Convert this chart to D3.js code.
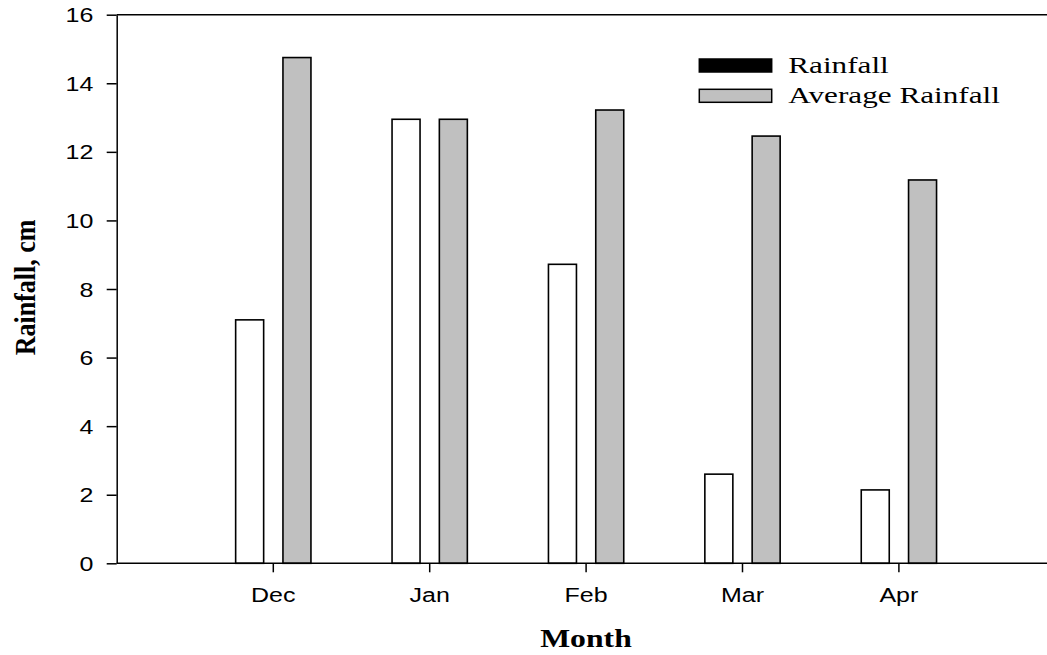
<!DOCTYPE html>
<html>
<head>
<meta charset="utf-8">
<script src="https://cdn.jsdelivr.net/npm/d3@7"></script>
<style>
  html, body { margin: 0; padding: 0; background: #fff; }
  svg { display: block; }
</style>
</head>
<body>
<svg id="chart" width="1047" height="655"></svg>
<script>
const months = ["Dec", "Jan", "Feb", "Mar", "Apr"];
const rainfall = [7.1, 12.95, 8.72, 2.6, 2.14];
const averageRainfall = [14.75, 12.95, 13.22, 12.46, 11.18];
const seriesNames = ["Rainfall", "Average Rainfall"];
const yTicks = [0, 2, 4, 6, 8, 10, 12, 14, 16];

(function () {
const svg = d3.select("#chart");
const sansFont = "'Liberation Sans', Arial, sans-serif";
const serifFont = "'Liberation Serif', 'Times New Roman', serif";

const plotLeft = 116.7, plotTop = 14.7, plotBottom = 563.3, plotRight = 1047;
const y = d3.scaleLinear().domain([0, 16]).range([plotBottom, plotTop]);
const x = d3.scaleBand().domain(months).range([195.1, 977.1]);
const barW = 28, gap = 19.3;
const center = m => x(m) + x.bandwidth() / 2;

// bars
const data = months.map((m, i) => ({ m, r: rainfall[i], a: averageRainfall[i] }));
const g = svg.append("g");
g.selectAll("rect.rain").data(data).join("rect")
  .attr("class", "rain")
  .attr("x", d => center(d.m) - gap / 2 - barW)
  .attr("y", d => y(d.r))
  .attr("width", barW)
  .attr("height", d => y(0) - y(d.r))
  .attr("fill", "#fff").attr("stroke", "#000").attr("stroke-width", 1.6);
g.selectAll("rect.avg").data(data).join("rect")
  .attr("class", "avg")
  .attr("x", d => center(d.m) + gap / 2)
  .attr("y", d => y(d.a))
  .attr("width", barW)
  .attr("height", d => y(0) - y(d.a))
  .attr("fill", "#c0c0c0").attr("stroke", "#000").attr("stroke-width", 1.6);

// frame lines (top and bottom)
svg.append("line").attr("x1", plotLeft).attr("x2", plotRight).attr("y1", plotTop).attr("y2", plotTop)
  .attr("stroke", "#000").attr("stroke-width", 1.5);
svg.append("line").attr("x1", plotLeft).attr("x2", plotRight).attr("y1", plotBottom).attr("y2", plotBottom)
  .attr("stroke", "#000").attr("stroke-width", 1.5);

// y axis
const yAxis = svg.append("g").attr("transform", `translate(${plotLeft},0)`)
  .call(d3.axisLeft(y).tickValues(yTicks).tickSize(10).tickSizeOuter(0).tickFormat(d3.format("d")));
yAxis.selectAll("path, line").attr("stroke", "#000").attr("stroke-width", 1.5);
yAxis.selectAll("text")
  .attr("x", null).attr("dy", null)
  .attr("transform", "translate(-23.4,7) scale(1.25,1)")
  .attr("text-anchor", "end")
  .style("font-family", sansFont).style("font-size", "20px").attr("fill", "#000");

// x axis
const xAxis = svg.append("g").attr("transform", `translate(0,${plotBottom})`)
  .call(d3.axisBottom(x).tickSize(9).tickSizeOuter(0));
xAxis.select("path.domain").remove();
xAxis.selectAll("line").attr("stroke", "#000").attr("stroke-width", 1.5);
xAxis.selectAll("text")
  .attr("y", null).attr("dy", null)
  .attr("transform", "translate(0,38.4) scale(1.25,1)")
  .attr("text-anchor", "middle")
  .style("font-family", sansFont).style("font-size", "20px").attr("fill", "#000");

// axis titles
svg.append("text")
  .attr("transform", "translate(586,647) scale(1.22,1)")
  .attr("text-anchor", "middle")
  .style("font-family", serifFont).style("font-size", "26px").style("font-weight", "bold")
  .text("Month");
svg.append("text")
  .attr("transform", "translate(35,287.5) scale(1.1,1) rotate(-90)")
  .attr("text-anchor", "middle")
  .style("font-family", serifFont).style("font-size", "26px").style("font-weight", "bold")
  .text("Rainfall, cm");

// legend
const legendFills = ["#000", "#c0c0c0"];
const legendRowY = [59, 89.3];
const leg = svg.append("g");
seriesNames.forEach((name, i) => {
  leg.append("rect")
    .attr("x", 699.3).attr("y", legendRowY[i])
    .attr("width", 72.4).attr("height", 13)
    .attr("fill", legendFills[i]).attr("stroke", "#000").attr("stroke-width", 1.5);
  leg.append("text")
    .attr("transform", `translate(788.3,${legendRowY[i] + 14}) scale(1.3,1)`)
    .style("font-family", serifFont).style("font-size", "24px")
    .text(name);
});
})();
</script>
</body>
</html>
